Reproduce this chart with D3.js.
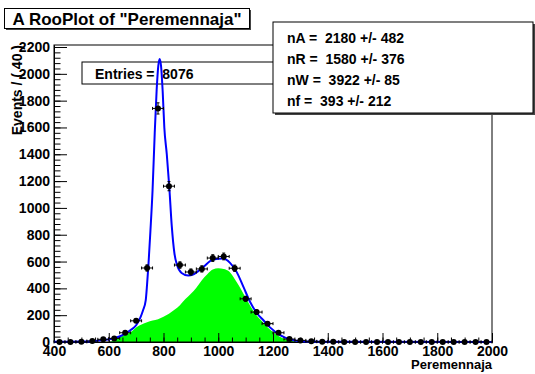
<!DOCTYPE html>
<html>
<head>
<meta charset="utf-8">
<script src="https://cdn.jsdelivr.net/npm/d3@7"></script>
<style>
  body { margin: 0; background: #fff; }
  text { font-family: "Liberation Sans", Arial, Helvetica, sans-serif; font-weight: bold; white-space: pre; }
</style>
</head>
<body>
<div id="chart"></div>
<script>
// histogram bins (centres, width 40) and counts
var binCenters = [420, 460, 500, 540, 580, 620, 660, 700, 740, 780,
                  820, 860, 900, 940, 980, 1020, 1060, 1100, 1140, 1180,
                  1220, 1260, 1300, 1340, 1380, 1420, 1460, 1500, 1540, 1580,
                  1620, 1660, 1700, 1740, 1780, 1820, 1860, 1900, 1940, 1980];
var counts = [0, 0, 1, 7, 20, 27, 69, 158, 552, 1742,
              1162, 574, 522, 545, 626, 638, 550, 322, 223, 137,
              69, 22, 12, 5, 2, 1, 0, 0, 0, 0,
              0, 0, 0, 0, 0, 0, 0, 0, 0, 0];

// total fit curve (blue)
var fitX = [400, 500, 540, 580, 620, 644, 660, 680, 700, 715, 725, 735, 740, 745, 752, 760, 768, 775, 781, 786,
            791, 797, 803, 812, 821, 830, 840, 850, 866, 890, 910, 945, 982, 1018, 1043, 1067, 1092, 1116, 1140, 1165,
            1189, 1226, 1262, 1290, 1340, 1400, 2000];
var fitY = [1, 3, 6, 14, 28, 45, 62, 89, 125, 180, 235, 310, 430, 575, 820, 1130, 1560, 1880, 2060, 2110,
            2060, 1870, 1600, 1400, 1160, 870, 660, 570, 515, 496, 505, 560, 615, 622, 590, 523, 411, 300, 218, 162,
            109, 52, 20, 8, 3, 1, 0];

// background component (green)
var bkgX = [600, 620, 640, 660, 680, 700, 720, 740, 760, 780, 800, 820, 840, 860, 880, 900, 920, 940, 960, 980,
            1000, 1020, 1040, 1060, 1080, 1100, 1120, 1140, 1160, 1180, 1200, 1220, 1240, 1260, 1280, 1300];
var bkgY = [0, 12, 35, 55, 72, 108, 130, 148, 160, 170, 188, 210, 240, 275, 320, 360, 405, 460, 505, 540,
            550, 545, 525, 470, 405, 330, 260, 200, 155, 110, 75, 45, 25, 12, 4, 0];

var xTicks = [400, 600, 800, 1000, 1200, 1400, 1600, 1800, 2000];
var yTicks = [0, 200, 400, 600, 800, 1000, 1200, 1400, 1600, 1800, 2000, 2200];
var statLines = ["nA =  2180 +/- 482", "nR =  1580 +/- 376", "nW =  3922 +/- 85", "nf =  393 +/- 212"];

var width = 535, height = 374;
var margin = {top: 45, left: 54, right: 43, bottom: 32};

var svg = d3.select("#chart").append("svg")
  .attr("width", width)
  .attr("height", height);

var xScale = d3.scaleLinear()
  .domain([400, 2000])
  .range([margin.left, width - margin.right]);

var yScale = d3.scaleLinear()
  .domain([0, 2215])
  .range([height - margin.bottom, margin.top]);

// green background component
svg.append("path")
  .datum(d3.zip(bkgX, bkgY))
  .attr("fill", "#00ff00")
  .attr("stroke", "none")
  .attr("d", d3.area()
    .x(function(d) { return xScale(d[0]); })
    .y0(yScale(0))
    .y1(function(d) { return yScale(d[1]); })
    .curve(d3.curveMonotoneX));

// Entries box
svg.append("rect")
  .attr("x", 82).attr("y", 62)
  .attr("width", 230).attr("height", 22)
  .attr("fill", "white").attr("stroke", "black").attr("stroke-width", 1);
svg.append("text")
  .attr("x", 95).attr("y", 78.5)
  .attr("font-size", 14)
  .text("Entries =  8076");

// frame
svg.append("rect")
  .attr("x", xScale(400)).attr("y", margin.top)
  .attr("width", xScale(2000) - xScale(400))
  .attr("height", yScale(0) - margin.top)
  .attr("fill", "none").attr("stroke", "black").attr("stroke-width", 1);

// axes, ticks pointing into the frame
var yMinor = svg.append("g")
  .attr("transform", `translate(${margin.left},0)`)
  .call(d3.axisLeft(yScale).tickValues(d3.range(0, 2201, 40)).tickSizeInner(-6.5).tickSizeOuter(0).tickFormat(""));
var yAxis = svg.append("g")
  .attr("transform", `translate(${margin.left},0)`)
  .call(d3.axisLeft(yScale).tickValues(yTicks).tickSizeInner(-13).tickSizeOuter(0).tickPadding(4)
    .tickFormat(d3.format("d")));

var xMinor = svg.append("g")
  .attr("transform", `translate(0,${yScale(0)})`)
  .call(d3.axisBottom(xScale).tickValues(d3.range(400, 2001, 50)).tickSizeInner(-4.5).tickSizeOuter(0).tickFormat(""));
var xAxis = svg.append("g")
  .attr("transform", `translate(0,${yScale(0)})`)
  .call(d3.axisBottom(xScale).tickValues(xTicks).tickSizeInner(-9).tickSizeOuter(0).tickPadding(4)
    .tickFormat(d3.format("d")));

svg.selectAll(".domain").attr("stroke", "black");
svg.selectAll(".tick line").attr("stroke", "black");
svg.selectAll(".tick text")
  .attr("fill", "black")
  .attr("font-size", 14)
  .attr("font-family", "Liberation Sans, Arial, sans-serif")
  .attr("font-weight", "bold");

// fit curve
svg.append("path")
  .datum(d3.zip(fitX, fitY))
  .attr("fill", "none")
  .attr("stroke", "#0000ff")
  .attr("stroke-width", 2)
  .attr("d", d3.line()
    .x(function(d) { return xScale(d[0]); })
    .y(function(d) { return yScale(d[1]); })
    .curve(d3.curveMonotoneX));

// data points with error bars
var pts = svg.append("g").selectAll("g")
  .data(d3.zip(binCenters, counts))
  .enter()
  .append("g");

pts.append("line")
  .attr("x1", function(d) { return xScale(d[0] - 20); })
  .attr("x2", function(d) { return xScale(d[0] + 20); })
  .attr("y1", function(d) { return yScale(d[1]); })
  .attr("y2", function(d) { return yScale(d[1]); })
  .attr("stroke", "black");
pts.append("line")
  .attr("x1", function(d) { return xScale(d[0]); })
  .attr("x2", function(d) { return xScale(d[0]); })
  .attr("y1", function(d) { return yScale(d[1] - Math.sqrt(d[1])); })
  .attr("y2", function(d) { return yScale(d[1] + Math.sqrt(d[1])); })
  .attr("stroke", "black");
pts.append("path")
  .attr("fill", "none").attr("stroke", "black")
  .attr("d", function(d) {
    var cx = xScale(d[0]), cy = yScale(d[1]);
    var xl = xScale(d[0] - 20), xr = xScale(d[0] + 20);
    var yl = yScale(d[1] - Math.sqrt(d[1])), yh = yScale(d[1] + Math.sqrt(d[1]));
    var s = "M" + xl + "," + (cy - 1.5) + "V" + (cy + 1.5) +
            "M" + xr + "," + (cy - 1.5) + "V" + (cy + 1.5);
    if (d[1] > 0) {
      s += "M" + (cx - 1.5) + "," + yl + "H" + (cx + 1.5) +
           "M" + (cx - 1.5) + "," + yh + "H" + (cx + 1.5);
    }
    return s;
  });
pts.append("circle")
  .attr("cx", function(d) { return xScale(d[0]); })
  .attr("cy", function(d) { return yScale(d[1]); })
  .attr("r", 3)
  .attr("fill", "black");

// axis titles
svg.append("text")
  .attr("x", xScale(2000))
  .attr("y", 369)
  .attr("text-anchor", "end")
  .attr("font-size", 13)
  .text("Peremennaja");

svg.append("text")
  .attr("transform", "translate(22," + margin.top + ") rotate(-90)")
  .attr("text-anchor", "end")
  .attr("font-size", 14)
  .text("Events / ( 40 )");

// parameter box
svg.append("rect")
  .attr("x", 275).attr("y", 24).attr("width", 260).attr("height", 91)
  .attr("fill", "#444");
svg.append("rect")
  .attr("x", 273).attr("y", 22).attr("width", 260).attr("height", 91)
  .attr("fill", "white").attr("stroke", "black");
svg.append("g").selectAll("text")
  .data(statLines)
  .enter()
  .append("text")
  .attr("x", 287)
  .attr("y", function(d, i) { return 42.5 + i * 21.1; })
  .attr("font-size", 14)
  .text(function(d) { return d; });

// title box
svg.append("rect")
  .attr("x", 6).attr("y", 10).attr("width", 245).attr("height", 20)
  .attr("fill", "#444");
svg.append("rect")
  .attr("x", 4.5).attr("y", 8.5).attr("width", 245).attr("height", 20)
  .attr("fill", "white").attr("stroke", "black");
svg.append("text")
  .attr("x", 127)
  .attr("y", 24.5)
  .attr("text-anchor", "middle")
  .attr("font-size", 17)
  .text("A RooPlot of \"Peremennaja\"");
</script>
</body>
</html>
